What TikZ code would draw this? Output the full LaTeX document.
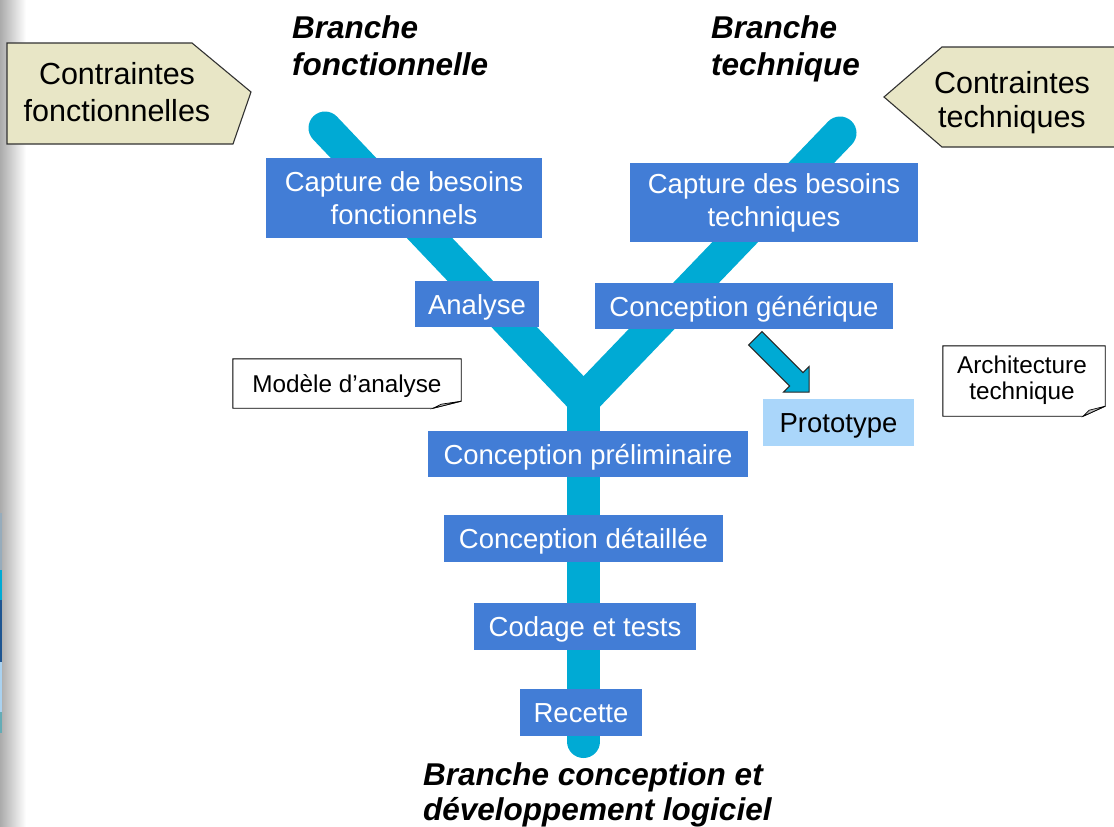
\documentclass[tikz,border=0pt]{standalone}
\usepackage{fontspec}
\setmainfont{Liberation Sans}
\definecolor{boxblue}{RGB}{66,125,214}
\definecolor{branchcyan}{RGB}{0,170,212}
\definecolor{protoblue}{RGB}{170,214,250}
\definecolor{beige}{RGB}{232,230,198}
\definecolor{edgegray}{RGB}{50,50,50}
\definecolor{slA}{RGB}{150,172,188}
\definecolor{slB}{RGB}{0,170,212}
\definecolor{slC}{RGB}{30,85,145}
\definecolor{slD}{RGB}{170,210,240}
\definecolor{slE}{RGB}{100,172,182}
\begin{document}
\begin{tikzpicture}[x=1pt,y=-1pt,
  branch/.style={draw=branchcyan, line width=33pt, line cap=round, line join=round},
  stepbox/.style={fill=boxblue, text=white, inner sep=0pt, align=center, font=\fontsize{27.5}{33}\selectfont},
  oneline/.style={text height=20pt, text depth=0pt},
  protobox/.style={fill=protoblue, text=black, inner sep=0pt, font=\fontsize{27.5}{33}\selectfont, text height=20pt, text depth=0pt},
  notetext/.style={inner sep=0pt, align=center, font=\fontsize{24.3}{26}\selectfont},
  noteedge/.style={draw=black, line width=0.9pt, line join=miter},
  flap/.style={fill=black!25, draw=black, line width=0.7pt},
  pentagon/.style={fill=beige, draw=edgegray, line width=1.1pt, line join=miter},
  constraint/.style={inner sep=0pt, align=center, font=\fontsize{30.5}{37}\selectfont},
  branchtitle/.style={inner sep=0pt, align=left, anchor=north west, font=\bfseries\itshape\fontsize{31.5}{37}\selectfont},
  blockarrow/.style={fill=branchcyan, draw=black!85, line width=1pt, line join=miter},
]
\fill[white] (0,0) rectangle (1114,827);
\useasboundingbox (0,0) rectangle (1114,827);

% shaded margin on the left, with thin coloured slivers
\shade[left color=black!33, right color=white] (0,0) rectangle (26,827);
\fill[slA] (0,513) rectangle (1.5,570);
\fill[slB] (0,570) rectangle (1.5,600);
\fill[slC] (0,600) rectangle (1.5,662);
\fill[slD] (0,662) rectangle (1.5,712);
\fill[slE] (0,712) rectangle (1.5,733);

% constraint tags
\draw[pentagon] (7,43) -- (192,43) -- (251,92) -- (233,144) -- (7,144) -- cycle;
\node[constraint] (cf) at (117,92.4) {Contraintes\\fonctionnelles};
\fill[beige] (1114,47) -- (942,47) -- (884,97) -- (942,147) -- (1114,147) -- cycle;
\draw[pentagon, fill=none] (1114,47) -- (942,47) -- (884,97) -- (942,147) -- (1114,147);
\node[constraint, font=\fontsize{30.5}{34}\selectfont] (ctq) at (1012,102.3) {Contraintes\\techniques};

% branch titles
\node[branchtitle] (tf) at (292,15) {Branche\\fonctionnelle};
\node[branchtitle] (tt) at (711,15) {Branche\\technique};
\node[branchtitle, font=\bfseries\itshape\fontsize{31.5}{35}\selectfont] (tl) at (423,762) {Branche conception et\\développement logiciel};

% the Y of the process
\coordinate (topF) at (325,128);
\coordinate (topT) at (840,133);
\coordinate (fork) at (583.5,400);
\coordinate (foot) at (583.5,741.5);
\draw[branch] (topF) -- (fork) -- (topT);
\draw[branch] (fork) -- (foot);

% activities
\node[stepbox, minimum width=276pt, minimum height=80pt] (cbf) at (404,198) {Capture de besoins\\fonctionnels};
\node[stepbox, minimum width=288pt, minimum height=79pt] (cbt) at (774,202.5) {Capture des besoins\\techniques};
\node[stepbox, oneline, minimum width=124pt, minimum height=46pt] (ana) at (477,304) {Analyse};
\node[stepbox, oneline, minimum width=298pt, minimum height=46pt] (cg) at (744,306) {Conception générique};
\node[stepbox, oneline, minimum width=320pt, minimum height=46pt] (cp) at (588,454) {Conception préliminaire};
\node[stepbox, oneline, minimum width=279pt, minimum height=47pt] (cd) at (583.5,538.5) {Conception détaillée};
\node[stepbox, oneline, minimum width=222pt, minimum height=47pt] (ct) at (585,626.5) {Codage et tests};
\node[stepbox, oneline, minimum width=122pt, minimum height=47pt] (rec) at (581,712.5) {Recette};
\node[protobox, minimum width=151pt, minimum height=47pt] (proto) at (838.5,422.5) {Prototype};

% block arrow towards the prototype
\coordinate (arrowfoot) at (755.3,338.3);
\begin{scope}[shift={(arrowfoot)}, rotate=-45]
  \draw[blockarrow] (0,-9.5) -- (58,-9.5) -- (58,-18) -- (76,0) -- (58,18) -- (58,9.5) -- (0,9.5) -- cycle;
\end{scope}

% notes with folded corner
\node[notetext, text height=18pt, text depth=0pt, minimum width=228pt, minimum height=49pt] (mod) at (347,383.5) {Modèle d’analyse};
\draw[noteedge] (mod.north west) -- (mod.north east) -- ([yshift=7pt]mod.south east) -- ([xshift=-28pt]mod.south east) -- (mod.south west) -- cycle;
\draw[flap] ([yshift=7pt]mod.south east) -- ([xshift=-20pt,yshift=4pt]mod.south east) -- ([xshift=-28pt]mod.south east) -- cycle;

\node[notetext, minimum width=162pt, minimum height=70pt] (arch) at (1022,380) {Architecture\\technique};
\draw[noteedge] ([xshift=2pt,yshift=-1pt]arch.north west) -- ([xshift=2pt,yshift=-1pt]arch.north east) -- ([xshift=2pt,yshift=9pt]arch.south east) -- ([xshift=-20pt,yshift=-1pt]arch.south east) -- ([xshift=2pt,yshift=-1pt]arch.south west) -- cycle;
\draw[flap] ([xshift=2pt,yshift=9pt]arch.south east) -- ([xshift=-14pt,yshift=5pt]arch.south east) -- ([xshift=-20pt,yshift=-1pt]arch.south east) -- cycle;
\end{tikzpicture}
\end{document}
